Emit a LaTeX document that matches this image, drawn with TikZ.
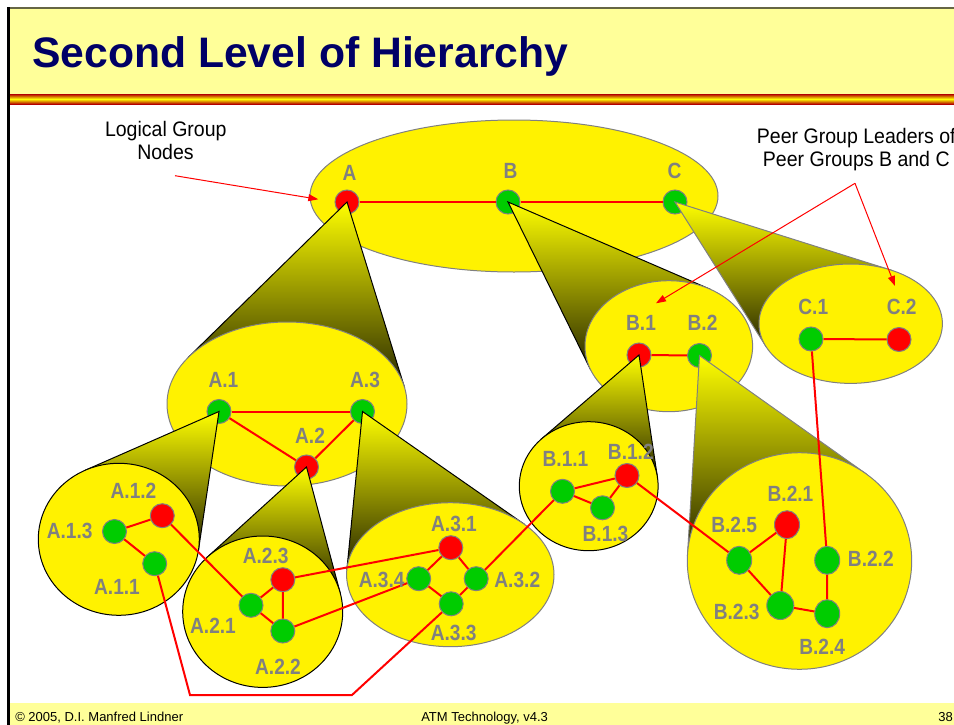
\documentclass[tikz,border=0pt]{standalone}
\usepackage{fontspec}
\usepackage{graphicx}
\setmainfont{Liberation Sans}
\usetikzlibrary{shapes.geometric,arrows.meta}
\definecolor{bandyellow}{RGB}{255,255,153}
\definecolor{navy}{RGB}{0,0,102}
\definecolor{lblgray}{RGB}{128,128,128}
\definecolor{nodegreen}{RGB}{0,204,0}
\definecolor{conedark}{RGB}{38,38,0}
\definecolor{frameolive}{RGB}{102,102,68}
\newcommand\lb[1]{\scalebox{0.87}[1]{#1}}
\newcommand\an[1]{\scalebox{0.93}[1]{#1}}
\newcommand\drawcone[7]{%
  \pgfmathsetmacro\cnux{(#1-(#3))/(#5)}%
  \pgfmathsetmacro\cnuy{(#2-(#4))/(#6)}%
  \pgfmathsetmacro\cnd{sqrt((\cnux)*(\cnux)+(\cnuy)*(\cnuy))}%
  \pgfmathsetmacro\cnph{atan2(\cnuy,\cnux)}%
  \pgfmathsetmacro\cnal{acos(1/\cnd)}%
  \pgfmathsetmacro\cnxa{#3+#5*cos(\cnph+\cnal)}%
  \pgfmathsetmacro\cnya{#4+#6*sin(\cnph+\cnal)}%
  \pgfmathsetmacro\cnxb{#3+#5*cos(\cnph-\cnal)}%
  \pgfmathsetmacro\cnyb{#4+#6*sin(\cnph-\cnal)}%
  \shadedraw[conefill, draw=#7] (#1,#2) -- (\cnxa,\cnya) -- (\cnxb,\cnyb) -- cycle;%
}
\begin{document}
\begin{tikzpicture}[x=0.75pt,y=-0.75pt,
  grp/.style={ellipse, fill=yellow, draw=lblgray, line width=0.75pt, inner sep=0pt},
  grpk/.style={grp, draw=black},
  gnode/.style={circle, fill=nodegreen, draw=lblgray, line width=0.75pt, minimum size=18pt, inner sep=0pt},
  rnode/.style={gnode, fill=red},
  goval/.style={ellipse, fill=nodegreen, draw=lblgray, line width=0.75pt, minimum width=18.75pt, minimum height=21pt, inner sep=0pt},
  roval/.style={goval, fill=red},
  lbl/.style={text=lblgray, font=\fontsize{16.5pt}{18pt}\selectfont\bfseries, inner sep=0pt},
  link/.style={draw=red, line width=1.5pt},
  ann/.style={font=\fontsize{15.75pt}{18pt}\selectfont, inner sep=0pt, anchor=base},
  annarrow/.style={draw=red, line width=0.75pt, -{Triangle[length=7.5pt,width=5.25pt]}},
  conefill/.style={line width=0.75pt, top color=yellow, bottom color=conedark},
  foot/.style={font=\fontsize{9.75pt}{11pt}\selectfont, inner sep=0pt, anchor=base west}
]
\useasboundingbox (0,0) rectangle (954,725);
% ---- slide frame ----
\fill[bandyellow] (8,9) rectangle (954,94);
\shade[top color=red!70!black, bottom color=red!70!black, middle color=yellow] (8,94) rectangle (954,104);
\fill[bandyellow] (8,703) rectangle (954,725);
\draw[frameolive, line width=1.9pt] (7,8) -- (954,8);
\draw[black, line width=2.25pt] (8.5,7) -- (8.5,725);
\node[anchor=base west, inner sep=0pt, text=navy, font=\fontsize{32pt}{36pt}\selectfont\bfseries] (title) at (32,67) {Second Level of Hierarchy};
\node[foot] (ft1) at (15,721) {© 2005, D.I. Manfred Lindner};
\node[foot] (ft2) at (421,721) {ATM Technology, v4.3};
\node[foot] (ft3) at (938,721) {38};
% ---- level 1 ----
\node[grp, minimum width=306pt, minimum height=114pt] (E0) at (514,196) {};
\node[rnode] (A) at (347,202) {};
\node[gnode] (B) at (508,202) {};
\node[gnode] (C) at (675,202) {};
\draw[link] (A) -- (B) -- (C);
\node[lbl] (lA) at (349.5,172.5) {\lb{A}};
\node[lbl] (lB) at (510.5,170.5) {\lb{B}};
\node[lbl] (lC) at (674.5,171) {\lb{C}};
\drawcone{347}{202}{287}{404}{120}{82}{black}
\drawcone{508}{202}{668.8}{346.2}{83.8}{65.5}{black}
\drawcone{675}{202}{850.7}{323.7}{91.7}{59.7}{lblgray}
% ---- level 2 ----
\node[grp, minimum width=180pt, minimum height=123pt] (EA) at (287,404) {};
\node[grp, minimum width=125.7pt, minimum height=98.25pt] (EB) at (668.8,346.2) {};
\node[grp, minimum width=137.55pt, minimum height=89.55pt] (EC) at (850.7,323.7) {};
\node[gnode] (A1) at (219,411.5) {};
\node[rnode] (A2) at (306.5,467) {};
\node[gnode] (A3) at (362.5,411.5) {};
\node[rnode] (B1) at (639,355) {};
\node[gnode] (B2) at (699.5,355.5) {};
\node[gnode] (C1) at (811,339) {};
\node[rnode] (C2) at (899,339.5) {};
\draw[link] (A1) -- (A3);
\draw[link] (A1) -- (A2) -- (A3);
\draw[link] (B1) -- (B2);
\draw[link] (C1) -- (C2);
\node[lbl] (lA1) at (223.5,379.5) {\lb{A.1}};
\node[lbl] (lA3) at (365,379.5) {\lb{A.3}};
\node[lbl] (lA2) at (310,436) {\lb{A.2}};
\node[lbl] (lB1) at (641,323) {\lb{B.1}};
\node[lbl] (lB2) at (702.5,323) {\lb{B.2}};
\node[lbl] (lC1) at (813.3,306.7) {\lb{C.1}};
\node[lbl] (lC2) at (901.7,306.7) {\lb{C.2}};
\drawcone{219}{411.5}{118.8}{539.3}{80.5}{76}{black}
\drawcone{306.5}{467}{262.7}{611.7}{80}{75.7}{black}
\drawcone{362.5}{411.5}{450.3}{574.7}{103.7}{72}{black}
\drawcone{639}{355}{588.7}{486.2}{69.4}{64.5}{black}
\drawcone{699.5}{355.5}{799.5}{561}{112.2}{108.3}{lblgray}
% ---- level 3 ----
\node[grpk, minimum width=120.75pt, minimum height=114pt] (EA1) at (118.8,539.3) {};
\node[grpk, minimum width=120pt, minimum height=113.55pt] (EA2) at (262.7,611.7) {};
\node[grp, minimum width=155.55pt, minimum height=108pt] (EA3) at (450.3,574.7) {};
\node[grpk, minimum width=104.1pt, minimum height=96.75pt] (EB1) at (588.7,486.2) {};
\node[grp, minimum width=168.3pt, minimum height=162.45pt] (EB2) at (799.5,561) {};
\node[gnode] (A11) at (154.7,563.7) {};
\node[rnode] (A12) at (162.3,515.7) {};
\node[gnode] (A13) at (114.5,531.5) {};
\node[gnode] (A21) at (251,605.3) {};
\node[gnode] (A22) at (282.8,631) {};
\node[rnode] (A23) at (282.8,579.7) {};
\node[rnode] (A31) at (450.8,547.7) {};
\node[gnode] (A32) at (476.2,578.7) {};
\node[gnode] (A33) at (451.2,603.8) {};
\node[gnode] (A34) at (418.7,578.7) {};
\node[gnode] (B11) at (562.5,491.3) {};
\node[rnode] (B12) at (627,475.5) {};
\node[gnode] (B13) at (602.5,507.8) {};
\node[roval] (B21) at (787,524.7) {};
\node[goval] (B22) at (827.2,560.3) {};
\node[goval, minimum width=20.25pt] (B23) at (780.3,605.5) {};
\node[goval] (B24) at (827.2,613.7) {};
\node[goval] (B25) at (739.2,560.3) {};
\coordinate (bendL) at (190,695);
\coordinate (bendR) at (352,695);
\draw[link] (A13) -- (A12);
\draw[link] (A13) -- (A11);
\draw[link] (A12) -- (A21);
\draw[link] (A11) -- (bendL) -- (bendR) -- (A33);
\draw[link] (A23) -- (A21) -- (A22) -- (A23);
\draw[link] (A23) -- (A31);
\draw[link] (A22) -- (A34);
\draw[link] (A34) -- (A31) -- (A32) -- (A33) -- (A34);
\draw[link] (A32) -- (B11);
\draw[link] (B11) -- (B12) -- (B13) -- (B11);
\draw[link] (B12) -- (B25);
\draw[link] (B25) -- (B21) -- (B23) -- (B25);
\draw[link] (B23) -- (B24) -- (B22);
\draw[link] (C1) -- (B22);
\node[lbl] (lA12) at (133.5,491) {\lb{A.1.2}};
\node[lbl] (lA13) at (69.7,531) {\lb{A.1.3}};
\node[lbl] (lA11) at (117,587) {\lb{A.1.1}};
\node[lbl] (lA23) at (265.7,556) {\lb{A.2.3}};
\node[lbl] (lA21) at (213,626.3) {\lb{A.2.1}};
\node[lbl] (lA22) at (278,667) {\lb{A.2.2}};
\node[lbl] (lA31) at (454,524) {\lb{A.3.1}};
\node[lbl] (lA34) at (381.7,579.5) {\lb{A.3.4}};
\node[lbl] (lA32) at (517.3,579.5) {\lb{A.3.2}};
\node[lbl] (lA33) at (453.7,632.5) {\lb{A.3.3}};
\node[lbl] (lB11) at (565.5,459) {\lb{B.1.1}};
\node[lbl] (lB12) at (630.8,452) {\lb{B.1.2}};
\node[lbl] (lB13) at (605.5,533.8) {\lb{B.1.3}};
\node[lbl] (lB21) at (790.5,493.5) {\lb{B.2.1}};
\node[lbl] (lB25) at (734.2,525) {\lb{B.2.5}};
\node[lbl] (lB22) at (870.8,558.8) {\lb{B.2.2}};
\node[lbl] (lB23) at (736.7,611.7) {\lb{B.2.3}};
\node[lbl] (lB24) at (822.2,647.2) {\lb{B.2.4}};
% ---- annotations ----
\node[ann] (log1) at (165.8,136.7) {\an{Logical Group}};
\node[ann] (log2) at (165.5,159.3) {\an{Nodes}};
\coordinate (logS) at (175,175.7);
\coordinate (logT) at (318.3,199.3);
\draw[annarrow] (logS) -- (logT);
\node[ann] (peer1) at (856.3,143.3) {\an{Peer Group Leaders of}};
\node[ann] (peer2) at (856.3,166) {\an{Peer Groups B and C}};
\coordinate (peerJ) at (855,183.3);
\coordinate (peerTB) at (656,303.3);
\coordinate (peerTC) at (895,286);
\draw[annarrow] (peerJ) -- (peerTB);
\draw[annarrow] (peerJ) -- (peerTC);
\end{tikzpicture}
\end{document}
